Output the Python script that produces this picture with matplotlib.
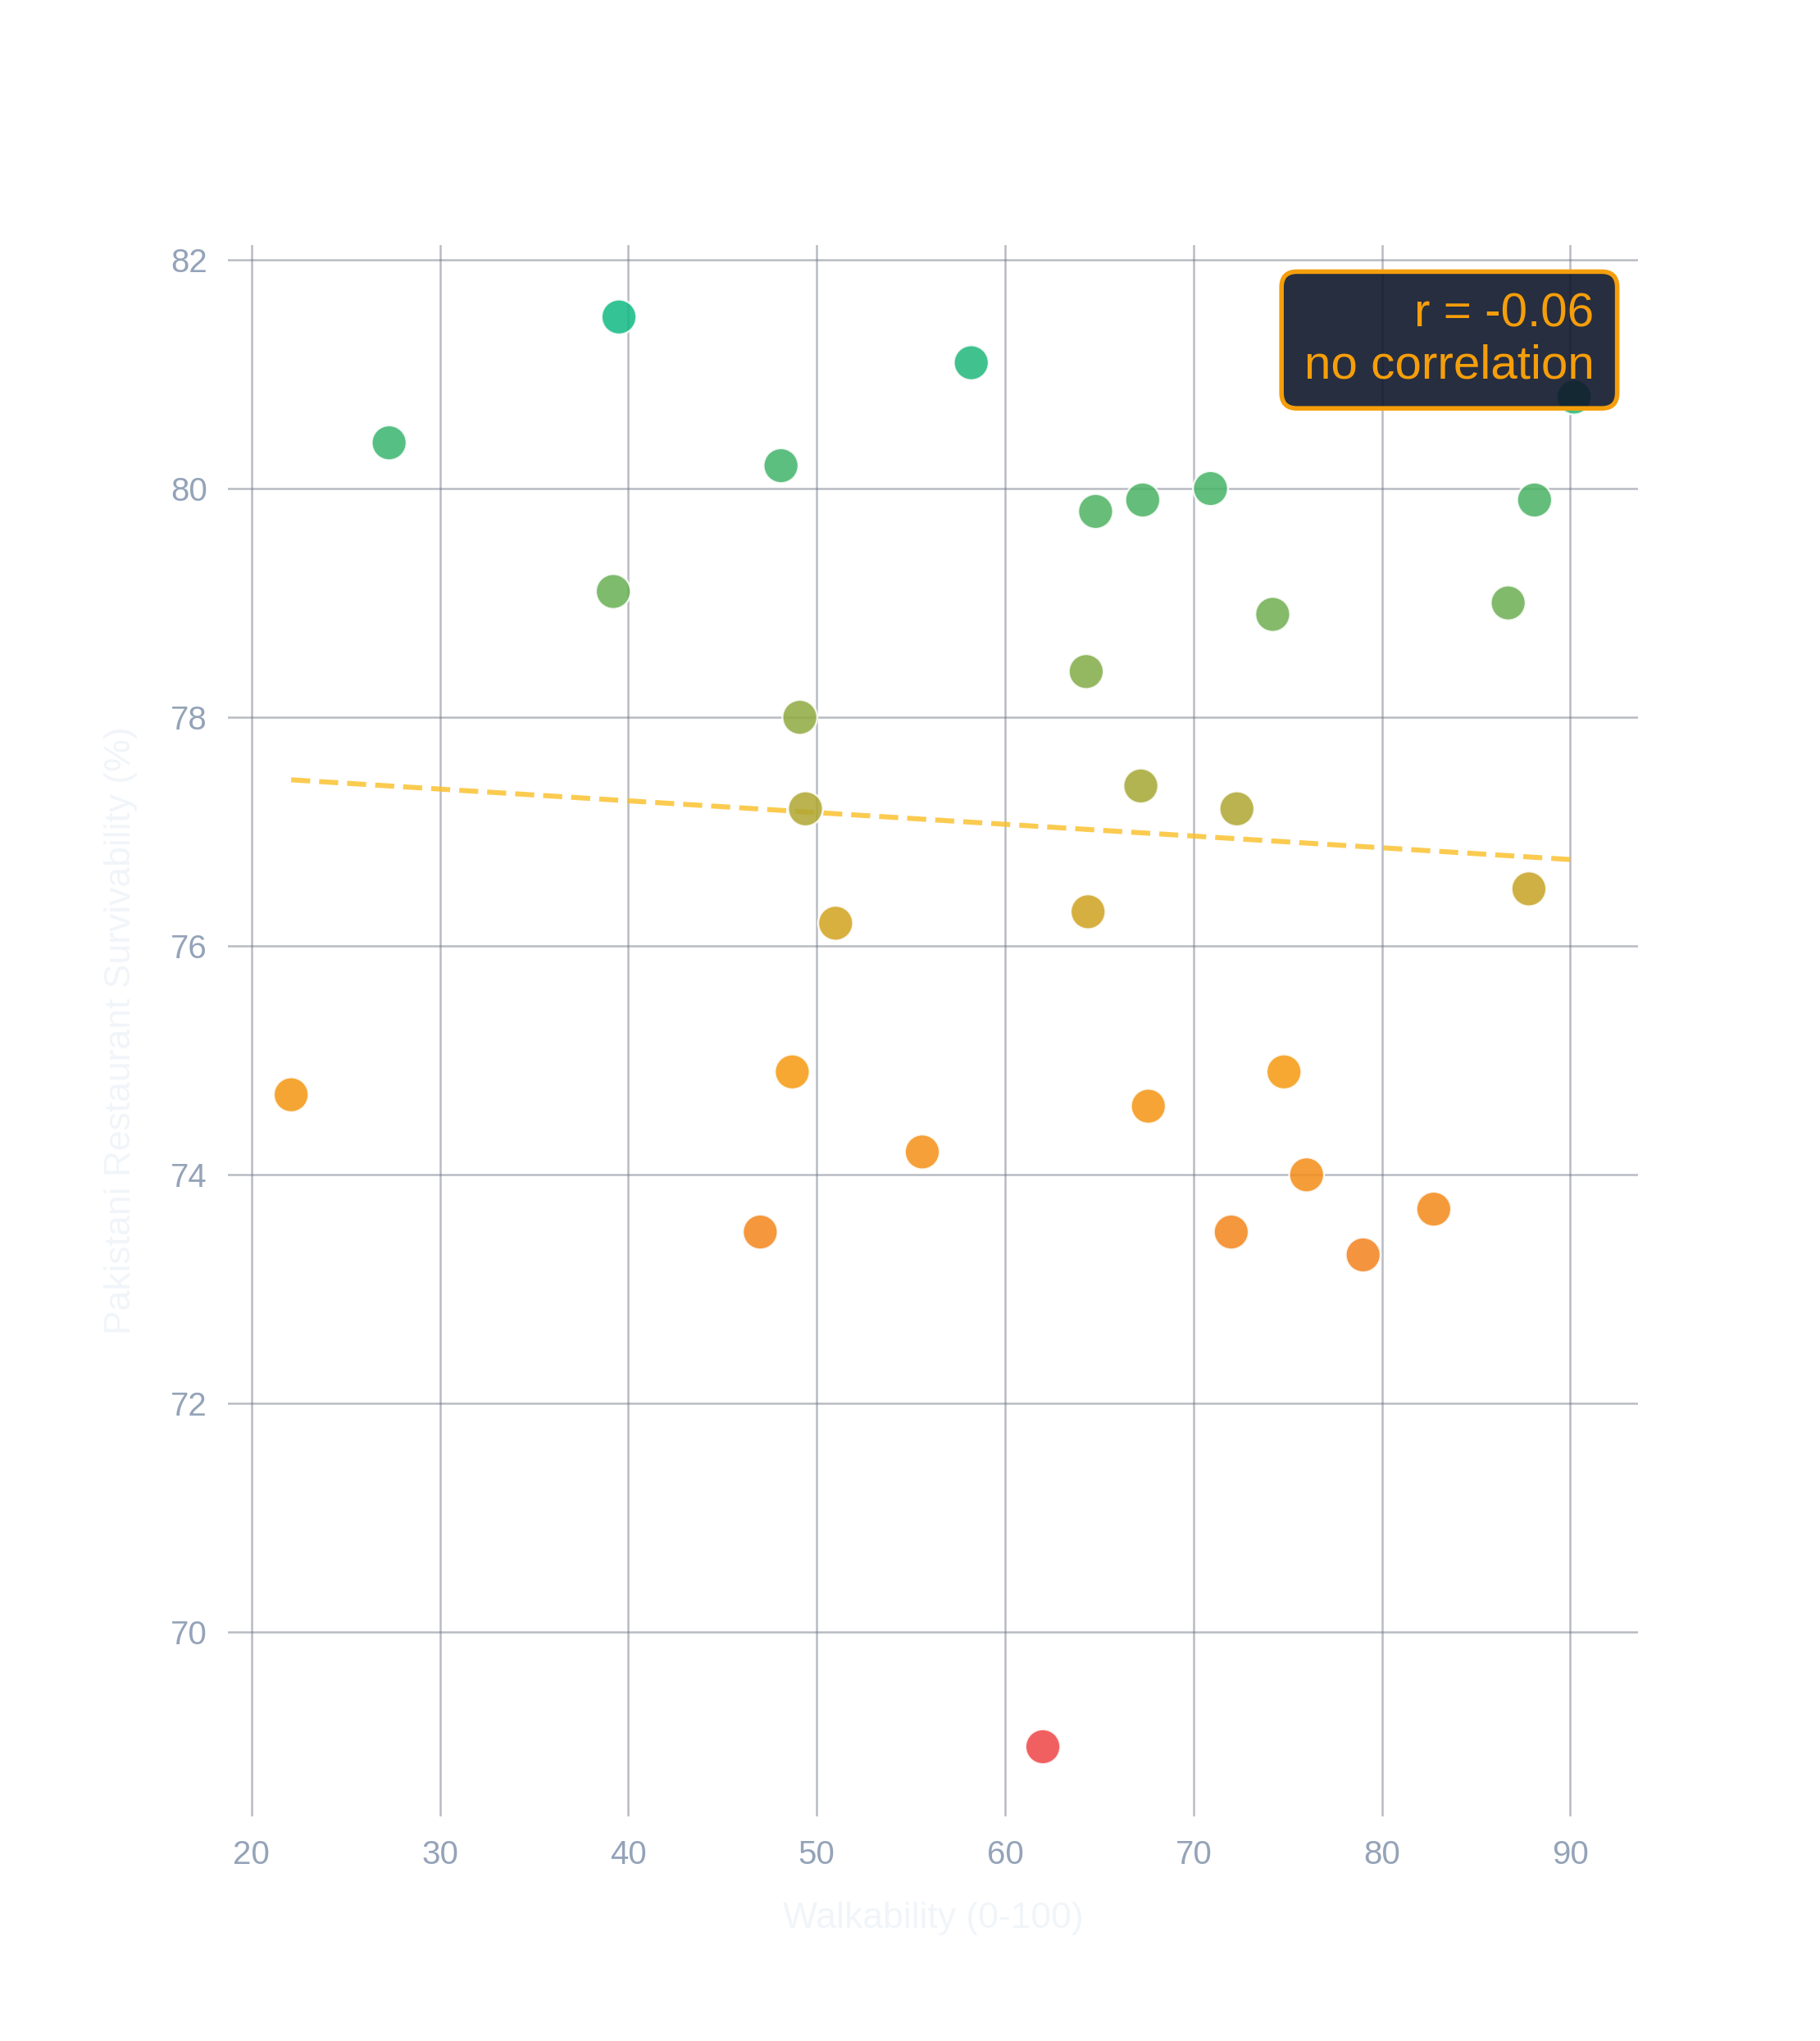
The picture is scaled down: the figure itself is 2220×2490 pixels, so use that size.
import matplotlib.pyplot as plt
import numpy as np
from matplotlib.colors import LinearSegmentedColormap, Normalize
from matplotlib.patches import FancyBboxPatch

plt.rcParams['font.family'] = ['Liberation Sans', 'DejaVu Sans']

# walkability score vs survivability
walkability = [27.3, 39.5, 39.2, 48.1, 58.2, 49.1, 49.4, 51.0, 22.1, 48.7,
               47.0, 55.6, 62.0, 64.8, 67.3, 70.9, 64.3, 67.2, 72.3, 64.4,
               74.2, 86.7, 88.1, 90.2, 87.8, 67.6, 74.8, 76.0, 72.0, 79.0,
               82.75]
survivability = [80.4, 81.5, 79.1, 80.2, 81.1, 78.0, 77.2, 76.2, 74.7, 74.9,
                 73.5, 74.2, 69.0, 79.8, 79.9, 80.0, 78.4, 77.4, 77.2, 76.3,
                 78.9, 79.0, 79.9, 80.8, 76.5, 74.6, 74.9, 74.0, 73.5, 73.3,
                 73.7]

x_ticks = [20, 30, 40, 50, 60, 70, 80, 90]
y_ticks = [70, 72, 74, 76, 78, 80, 82]

r_text = "r = -0.06"
r_label = "no correlation"

x = np.array(walkability)
y = np.array(survivability)

fig = plt.figure(figsize=(11.1, 12.45), dpi=200)
ax = fig.add_axes([0.1252, 0.110, 0.775, 0.770])

cmap = LinearSegmentedColormap.from_list('surv', ['#ef4444', '#f59e0b', '#10b981'])
norm = Normalize(vmin=y.min(), vmax=y.max())

# trend line (least squares)
slope, intercept = np.polyfit(x, y, 1)
xs = np.array([x.min(), x.max()])
ax.plot(xs, slope * xs + intercept, color='#fbbf24', alpha=0.8, lw=2.2,
        dashes=(3.8, 1.8), zorder=2)

ax.scatter(x, y, c=y, cmap=cmap, norm=norm, s=235, alpha=0.85,
           edgecolors=(1, 1, 1, 0.8), linewidths=0.9, zorder=3)

ax.set_xlim(18.74, 93.61)
ax.set_ylim(68.39, 82.13)
ax.set_xticks(x_ticks)
ax.set_yticks(y_ticks)
ax.grid(True, color='#6b7280', alpha=0.48, lw=0.9)
ax.set_axisbelow(True)
for s in ax.spines.values():
    s.set_visible(False)
ax.tick_params(length=0, labelsize=14.5, labelcolor='#94a3b8')
ax.tick_params(axis='x', pad=10)
ax.tick_params(axis='y', pad=9)

ax.set_xlabel('Walkability (0-100)', fontsize=16, color='#f1f5f9', va='center')
ax.xaxis.set_label_coords(0.5, -0.0647)
ax.set_ylabel('Pakistani Restaurant Survivability (%)', fontsize=16,
              color='#f1f5f9', va='center')
ax.yaxis.set_label_coords(-0.0756, 0.5)

# correlation box
box = FancyBboxPatch((0.747, 0.896), 0.238, 0.087,
                     boxstyle='round,pad=0,rounding_size=0.011',
                     mutation_aspect=0.897,
                     transform=ax.transAxes, facecolor=(15/255, 23/255, 42/255, 0.9),
                     edgecolor='#f59e0b', lw=2.0, zorder=5, clip_on=False)
ax.add_patch(box)
ax.text(0.9686, 0.948, r_text, transform=ax.transAxes, ha='right',
        va='baseline', fontsize=21, color='#f59e0b', zorder=6)
ax.text(0.9686, 0.915, r_label, transform=ax.transAxes, ha='right',
        va='baseline', fontsize=21, color='#f59e0b', zorder=6)

fig.savefig('out.png', dpi=200, facecolor='white')
